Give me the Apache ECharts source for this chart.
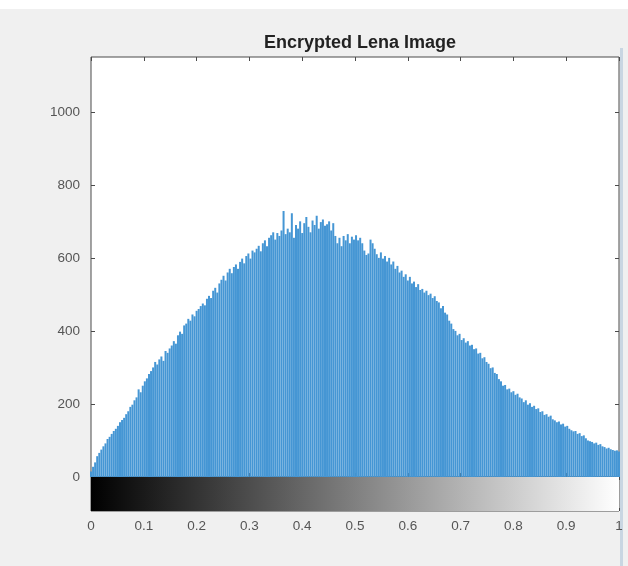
<!DOCTYPE html>
<html>
<head>
<meta charset="utf-8">
<script src="https://cdn.jsdelivr.net/npm/echarts@6/dist/echarts.min.js"></script>
<style>
  html, body { margin: 0; padding: 0; background: #f0f0f0; }
  #chart { width: 628px; height: 566px; }
</style>
</head>
<body>
<div id="chart"></div>
<script>
// histogram counts for gray levels 0..255
const counts = [
  15, 28, 40, 57, 66, 75, 84, 92, 104, 110, 118, 126, 132, 140, 150, 156,
  162, 172, 180, 192, 198, 210, 218, 240, 232, 250, 262, 270, 282, 290, 300, 315,
  308, 322, 330, 318, 345, 340, 352, 360, 372, 365, 388, 398, 392, 415, 420, 433,
  428, 445, 440, 455, 460, 468, 475, 470, 488, 496, 490, 510, 518, 505, 530, 540,
  551, 538, 560, 570, 558, 575, 582, 570, 589, 598, 585, 605, 612, 598, 620, 615,
  625, 633, 618, 640, 648, 632, 655, 662, 670, 650, 668, 660, 675, 728, 665, 680,
  670, 722, 655, 690, 680, 700, 668, 695, 712, 685, 670, 702, 690, 715, 680, 698,
  705, 688, 692, 700, 675, 695, 660, 640, 655, 632, 660, 648, 665, 640, 658, 650,
  662, 648, 655, 640, 620, 608, 612, 650, 640, 625, 610, 600, 615, 598, 605, 590,
  600, 582, 590, 570, 578, 560, 565, 548, 555, 538, 548, 530, 535, 520, 528, 512,
  515, 505, 510, 498, 502, 490, 495, 482, 478, 462, 468, 450, 445, 428, 420, 405,
  400, 388, 392, 375, 380, 368, 372, 360, 362, 350, 352, 338, 340, 325, 328, 315,
  310, 298, 300, 285, 282, 268, 262, 250, 252, 240, 242, 232, 235, 225, 228, 218,
  215, 205, 210, 198, 202, 192, 195, 186, 188, 178, 180, 170, 172, 165, 168, 158,
  155, 150, 152, 144, 146, 138, 140, 132, 128, 125, 126, 118, 120, 112, 114, 106,
  100, 98, 96, 92, 94, 88, 90, 84, 82, 78, 80, 76, 74, 72, 73, 70
];
const yTicks = [0, 200, 400, 600, 800, 1000];
const xTicks = [0, 0.1, 0.2, 0.3, 0.4, 0.5, 0.6, 0.7, 0.8, 0.9, 1];
const titleText = 'Encrypted Lena Image';

const histData = counts.map((c, i) => [i / 255, c]);

const chart = echarts.init(document.getElementById('chart'));

const axisColor = '#4a4a4a';
const font = 'Liberation Sans, Arial, sans-serif';
const labelStyle = { color: '#555', fontSize: 13.5, fontFamily: font };
const noLabel = { show: false };
const noLine = { show: false, onZero: false };
// only draw ticks at the listed values (skip the extra max tick)
const tickIn = (len, vals) => ({ inside: true, length: len, lineStyle: { color: axisColor }, customValues: vals });

const option = {
  backgroundColor: '#f0f0f0',
  animation: false,
  graphic: [
    { type: 'rect', left: 0, top: 0, shape: { width: 628, height: 9 }, style: { fill: '#fff' }, silent: true },
    { type: 'rect', left: 620, top: 48, shape: { width: 3, height: 518 }, style: { fill: '#c9d6e2' }, silent: true }
  ],
  title: {
    text: titleText,
    left: 355,
    textAlign: 'center',
    top: 29,
    textStyle: { fontSize: 18, fontWeight: 'bold', color: '#222', fontFamily: font }
  },
  grid: [
    { left: 91, top: 57, width: 528, height: 420, show: true, backgroundColor: '#fff', borderColor: axisColor, borderWidth: 1 },
    { left: 91, top: 477, width: 528, height: 34, show: true, backgroundColor: 'transparent', borderColor: axisColor, borderWidth: 1 }
  ],
  xAxis: [
    { gridIndex: 0, type: 'value', min: 0, max: 1, interval: 0.1, axisLine: noLine,
      axisTick: tickIn(4, xTicks), axisLabel: noLabel, splitLine: { show: false } },
    { gridIndex: 0, type: 'value', position: 'top', min: 0, max: 1, interval: 0.1, axisLine: noLine,
      axisTick: tickIn(4, xTicks), axisLabel: noLabel, splitLine: { show: false } },
    { gridIndex: 1, type: 'value', min: 0, max: 1, interval: 0.1, axisLine: noLine,
      axisTick: tickIn(3, xTicks),
      axisLabel: Object.assign({ margin: 8, customValues: xTicks, formatter: (v) => String(+(+v).toFixed(1)) }, labelStyle),
      splitLine: { show: false } },
    { gridIndex: 1, type: 'value', position: 'top', min: 0, max: 1, interval: 0.1, axisLine: noLine,
      axisTick: tickIn(3, xTicks), axisLabel: noLabel, splitLine: { show: false } }
  ],
  yAxis: [
    { gridIndex: 0, type: 'value', min: 0, max: 1150, interval: 200, axisLine: noLine,
      axisTick: tickIn(4, yTicks),
      axisLabel: Object.assign({ margin: 11, customValues: yTicks, formatter: (v) => String(v) }, labelStyle),
      splitLine: { show: false } },
    { gridIndex: 0, type: 'value', position: 'right', min: 0, max: 1150, interval: 200, axisLine: noLine,
      axisTick: tickIn(4, yTicks), axisLabel: noLabel, splitLine: { show: false } },
    { gridIndex: 1, type: 'value', min: 0, max: 1, show: false }
  ],
  series: [
    {
      type: 'bar',
      xAxisIndex: 0,
      yAxisIndex: 0,
      data: histData,
      barWidth: 2,
      itemStyle: { color: '#4596d4' },
      silent: true
    },
    {
      type: 'custom',
      xAxisIndex: 2,
      yAxisIndex: 2,
      data: [[0, 1, 1, 0]],
      renderItem: function (params, api) {
        const p0 = api.coord([api.value(0), api.value(1)]);
        const p1 = api.coord([api.value(2), api.value(3)]);
        return {
          type: 'rect',
          shape: { x: p0[0], y: p0[1], width: p1[0] - p0[0], height: p1[1] - p0[1] },
          style: {
            fill: new echarts.graphic.LinearGradient(0, 0, 1, 0, [
              { offset: 0, color: '#000' },
              { offset: 0.5, color: '#808080' },
              { offset: 1, color: '#fff' }
            ])
          }
        };
      },
      silent: true
    }
  ]
};

chart.setOption(option);
</script>
</body>
</html>
